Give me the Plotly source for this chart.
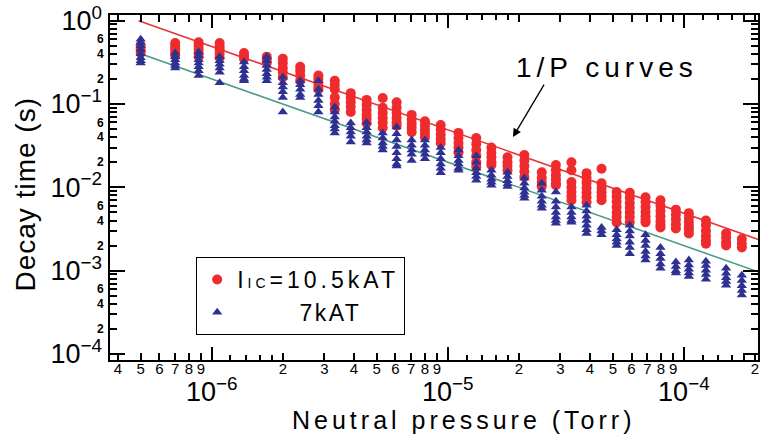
import plotly.graph_objects as go

# ---------------- data ----------------
pressure = [5.0e-7, 7.0e-7, 8.8e-7, 1.08e-6, 1.37e-6, 1.71e-6, 2.0e-6, 2.37e-6, 2.83e-6,
            3.32e-6, 3.88e-6, 4.53e-6, 5.3e-6, 6.07e-6, 7.03e-6, 8.0e-6, 9.33e-6,
            1.11e-5, 1.32e-5, 1.53e-5, 1.79e-5, 2.11e-5, 2.5e-5, 2.87e-5, 3.34e-5,
            3.87e-5, 4.48e-5, 5.19e-5, 5.9e-5, 6.88e-5, 7.96e-5, 9.25e-5, 1.05e-4,
            1.24e-4, 1.51e-4, 1.76e-4]

tau_10kAT = [
    [0.50, 0.45, 0.41],
    [0.54, 0.50, 0.46, 0.42, 0.38],
    [0.55, 0.50, 0.45, 0.41, 0.37],
    [0.54, 0.49, 0.45, 0.40, 0.36],
    [0.41, 0.38, 0.35],
    [0.37, 0.34, 0.31],
    [0.35, 0.31, 0.27, 0.24, 0.21],
    [0.28, 0.25, 0.22, 0.19],
    [0.22, 0.20, 0.18, 0.16, 0.15],
    [0.19, 0.17, 0.15, 0.12, 0.10, 0.085],
    [0.135, 0.12, 0.105, 0.092, 0.080],
    [0.112, 0.098, 0.085, 0.074, 0.066, 0.059],
    [0.118, 0.090, 0.078, 0.068, 0.060, 0.052],
    [0.105, 0.090, 0.078, 0.068, 0.060, 0.055],
    [0.074, 0.065, 0.058, 0.052, 0.046],
    [0.062, 0.055, 0.049, 0.044, 0.040],
    [0.056, 0.049, 0.043, 0.038, 0.034],
    [0.045, 0.039, 0.034, 0.030, 0.026],
    [0.039, 0.033, 0.028, 0.024, 0.020, 0.0175],
    [0.030, 0.026, 0.023, 0.020, 0.0185],
    [0.023, 0.020, 0.018, 0.016],
    [0.0244, 0.021, 0.018, 0.0155, 0.0133],
    [0.0152, 0.013, 0.0115, 0.0102],
    [0.0185, 0.016, 0.014, 0.0125, 0.0112, 0.0106],
    [0.020, 0.016, 0.0116, 0.0100, 0.0088, 0.0078, 0.0070],
    [0.0148, 0.0130, 0.0113, 0.0098, 0.0086, 0.0076, 0.0066],
    [0.0167, 0.0112, 0.0098, 0.0087, 0.0078, 0.0070],
    [0.0088, 0.0077, 0.0067, 0.0058, 0.0050, 0.0044, 0.0038],
    [0.0086, 0.0075, 0.0065, 0.0057, 0.0050, 0.0044, 0.0038],
    [0.0076, 0.0066, 0.0058, 0.0051, 0.0045, 0.0041, 0.0038],
    [0.0070, 0.0060, 0.0052, 0.0045, 0.0039, 0.0035, 0.0033],
    [0.0054, 0.0047, 0.0041, 0.0036, 0.0032],
    [0.0049, 0.0043, 0.0038, 0.0034, 0.0031, 0.0028],
    [0.0040, 0.0035, 0.0030, 0.0026, 0.0023, 0.0021],
    [0.0028, 0.0025, 0.0022, 0.0020],
    [0.0024, 0.0021, 0.0019],
]

tau_7kAT = [
    [0.60, 0.55, 0.50, 0.45, 0.40, 0.36, 0.33, 0.31],
    [0.41, 0.37, 0.34, 0.31, 0.29, 0.27],
    [0.42, 0.38, 0.34, 0.31, 0.28, 0.25, 0.22],
    [0.37, 0.33, 0.30, 0.27, 0.24, 0.18],
    [0.32, 0.28, 0.25, 0.22, 0.20, 0.19],
    [0.37, 0.33, 0.29, 0.26, 0.23, 0.21, 0.19],
    [0.21, 0.18, 0.16, 0.14, 0.12, 0.080],
    [0.19, 0.17, 0.15, 0.13, 0.12],
    [0.19, 0.15, 0.13, 0.11, 0.095, 0.080],
    [0.092, 0.080, 0.070, 0.062, 0.055, 0.050, 0.045],
    [0.059, 0.052, 0.046, 0.041, 0.035],
    [0.060, 0.052, 0.046, 0.041, 0.037, 0.034],
    [0.045, 0.039, 0.034, 0.031, 0.028],
    [0.053, 0.044, 0.037, 0.031, 0.026, 0.022, 0.019, 0.018],
    [0.037, 0.032, 0.028, 0.025, 0.021],
    [0.037, 0.032, 0.028, 0.025, 0.022],
    [0.030, 0.026, 0.022, 0.019, 0.017, 0.015],
    [0.028, 0.024, 0.021, 0.019, 0.017, 0.016],
    [0.024, 0.020, 0.017, 0.015, 0.0135, 0.0122],
    [0.016, 0.014, 0.0125, 0.0115, 0.0106],
    [0.0152, 0.0135, 0.012, 0.011, 0.0102],
    [0.0129, 0.0112, 0.0098, 0.0087, 0.008, 0.0074],
    [0.0112, 0.0092, 0.0078, 0.0068, 0.0061, 0.0056],
    [0.0088, 0.0068, 0.0058, 0.0050, 0.0044, 0.0040, 0.0037],
    [0.0058, 0.0050, 0.0044, 0.0040, 0.0038],
    [0.0061, 0.0052, 0.0045, 0.0040, 0.0035, 0.0031, 0.0028],
    [0.0033, 0.0030, 0.0027],
    [0.0031, 0.0027, 0.0024, 0.0022, 0.0020],
    [0.0035, 0.0030, 0.0026, 0.0022, 0.0019, 0.0016],
    [0.0027, 0.0023, 0.0020, 0.0017, 0.0015, 0.00134],
    [0.0019, 0.0016, 0.0014, 0.0012, 0.00107],
    [0.00127, 0.00112, 0.0010, 0.00094],
    [0.00134, 0.00117, 0.00104, 0.00094, 0.00085],
    [0.0013, 0.00115, 0.00101, 0.0009, 0.00079],
    [0.00107, 0.00093, 0.00082, 0.00074, 0.00067],
    [0.00088, 0.00076, 0.00066, 0.00058, 0.00051],
]

# 1/P reference curves: tau = C / P
coef_10kAT = 4.9e-7
coef_7kAT = 2.0e-7
curve_p_10kAT = [4.9e-7, 2.1e-4]
curve_p_7kAT = [5.1e-7, 2.1e-4]

# tick values / labels
x_major = [1e-6, 1e-5, 1e-4]
x_major_text = ["10<sup>−6</sup>", "10<sup>−5</sup>", "10<sup>−4</sup>"]
x_minor_lab = [4e-7, 5e-7, 6e-7, 7e-7, 8e-7, 9e-7,
               2e-6, 3e-6, 4e-6, 5e-6, 6e-6, 7e-6, 8e-6, 9e-6,
               2e-5, 3e-5, 4e-5, 5e-5, 6e-5, 7e-5, 8e-5, 9e-5, 2e-4]
x_minor_text = ["4", "5", "6", "7", "8", "9",
                "2", "3", "4", "5", "6", "7", "8", "9",
                "2", "3", "4", "5", "6", "7", "8", "9", "2"]
x_minor_small = [1.2e-6, 1.4e-6, 1.6e-6, 1.8e-6, 1.2e-5, 1.4e-5, 1.6e-5, 1.8e-5,
                 1.2e-4, 1.4e-4, 1.6e-4, 1.8e-4]

y_major = [1e-4, 1e-3, 1e-2, 1e-1, 1]
y_major_text = ["10<sup>−4</sup>", "10<sup>−3</sup>", "10<sup>−2</sup>", "10<sup>−1</sup>", "10<sup>0</sup>"]
y_minor_lab = [2e-4, 4e-4, 6e-4, 2e-3, 4e-3, 6e-3, 2e-2, 4e-2, 6e-2, 2e-1, 4e-1, 6e-1]
y_minor_text = ["<b>2</b>", "<b>4</b>", "<b>6</b>"] * 4
y_minor_small = [m * d for d in [1e-4, 1e-3, 1e-2, 1e-1] for m in [3, 5, 7, 8, 9]]

# ---------------- figure ----------------
RED = "#ef2b2d"
BLUE = "#2e3192"
FONT = "Liberation Sans, Arial, sans-serif"

def flatten(ps, taus):
    xs, ys = [], []
    for p, col in zip(ps, taus):
        for t in col:
            xs.append(p)
            ys.append(t)
    return xs, ys

xr, yr = flatten(pressure, tau_10kAT)
xb, yb = flatten(pressure, tau_7kAT)

fig = go.Figure()
fig.add_trace(go.Scatter(x=curve_p_10kAT, y=[coef_10kAT / p for p in curve_p_10kAT],
                         mode="lines", line=dict(color="#e8353a", width=1.6),
                         showlegend=False, hoverinfo="skip"))
fig.add_trace(go.Scatter(x=curve_p_7kAT, y=[coef_7kAT / p for p in curve_p_7kAT],
                         mode="lines", line=dict(color="#4e9a88", width=1.6),
                         showlegend=False, hoverinfo="skip"))
fig.add_trace(go.Scatter(x=xr, y=yr, mode="markers",
                         name='<span style="letter-spacing:4px">I<span style="font-size:14px">IC</span>=10.5kAT</span>',
                         marker=dict(symbol="circle", size=10, color=RED, line=dict(width=0))))
fig.add_trace(go.Scatter(x=xb, y=yb, mode="markers",
                         name='<span style="letter-spacing:2.5px">\u00a0\u00a0\u00a0\u00a0\u00a0\u00a0\u00a07kAT</span>',
                         marker=dict(symbol="triangle-up", size=9, color=BLUE, line=dict(width=0))))

xrange_log = [-6.431, -3.686]
yrange_log = [-4.072, 0.068]

common = dict(showgrid=False, zeroline=False, ticks="inside", tickcolor="black",
              tickwidth=2, color="black", automargin=False)

fig.update_layout(
    width=761, height=438,
    margin=dict(l=110, r=3, t=15, b=78, autoexpand=False),
    paper_bgcolor="white", plot_bgcolor="white",
    font=dict(family=FONT, color="black"),
    showlegend=True,
    legend=dict(x=0.133, y=0.2986, xanchor="left", yanchor="top",
                bgcolor="white", bordercolor="black", borderwidth=1,
                font=dict(size=23, family=FONT), tracegroupgap=0,
                itemsizing="trace"),
    xaxis=dict(type="log", range=xrange_log, tickmode="array",
               tickvals=x_minor_lab, ticktext=x_minor_text, ticklen=7,
               tickfont=dict(size=15, family=FONT),
               showline=True, linecolor="black", linewidth=2, mirror="ticks",
               minor=dict(tickmode="array", tickvals=x_minor_small, ticks="inside",
                          ticklen=5, tickwidth=2, tickcolor="black"),
               ticklabelstandoff=-6, **common),
    xaxis2=dict(type="log", range=xrange_log, overlaying="x", anchor="y", side="bottom",
                tickmode="array", tickvals=x_major, ticktext=x_major_text, ticklen=13,
                tickfont=dict(size=27, family=FONT), ticklabelstandoff=13,
                showline=False, mirror="ticks", **common),
    yaxis=dict(type="log", range=yrange_log, tickmode="array",
               tickvals=y_minor_lab, ticktext=y_minor_text, ticklen=7,
               tickfont=dict(size=12, family="Liberation Sans, Arial"),
               showline=True, linecolor="black", linewidth=2, mirror="ticks",
               minor=dict(tickmode="array", tickvals=y_minor_small, ticks="inside",
                          ticklen=7, tickwidth=2, tickcolor="black"),
               ticklabelstandoff=2, **common),
    yaxis2=dict(type="log", range=yrange_log, overlaying="y", anchor="x", side="left",
                tickmode="array", tickvals=y_major, ticktext=y_major_text, ticklen=15,
                tickfont=dict(size=27, family=FONT), ticklabelstandoff=7,
                showline=False, mirror="ticks", **common),
)

# dummy traces so the overlay axes are drawn
fig.add_trace(go.Scatter(x=[], y=[], xaxis="x2", yaxis="y", showlegend=False))
fig.add_trace(go.Scatter(x=[], y=[], xaxis="x", yaxis="y2", showlegend=False))

# axis titles
fig.add_annotation(text='<span style="letter-spacing:4px">Neutral pressure (Torr)</span>',
                   xref="paper", yref="paper", x=0.546, y=-0.174,
                   xanchor="center", yanchor="middle", showarrow=False,
                   font=dict(size=25, family=FONT))
fig.add_annotation(text='<span style="letter-spacing:1px">Decay time (s)</span>',
                   xref="paper", yref="paper", x=-0.131, y=0.48, textangle=-90,
                   xanchor="center", yanchor="middle", showarrow=False,
                   font=dict(size=28, family=FONT))

# "1/P curves" label and arrow
fig.add_annotation(text='<span style="letter-spacing:5px">1/P curves</span>',
                   xref="x", yref="y", x=-4.326, y=-0.556,
                   xanchor="center", yanchor="middle", showarrow=False,
                   font=dict(size=28, family=FONT))
fig.add_annotation(text="", xref="x", yref="y", x=-4.724, y=-1.397,
                   ax=32, ay=-54, axref="pixel", ayref="pixel",
                   showarrow=True, arrowhead=2, arrowsize=1.3, arrowwidth=1.3,
                   arrowcolor="black")

fig.write_html("out.html", config={"displayModeBar": False},
               post_script=["document.body.style.margin='0px';"])
